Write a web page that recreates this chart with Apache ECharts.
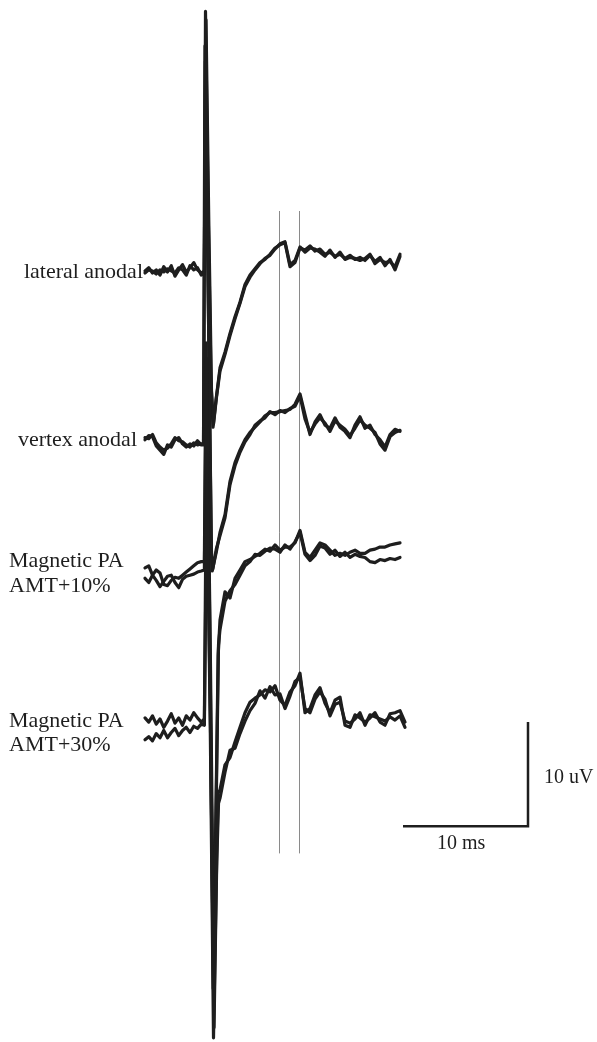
<!DOCTYPE html>
<html><head><meta charset="utf-8">
<script src="https://cdn.jsdelivr.net/npm/echarts@6/dist/echarts.min.js"></script>
<style>html,body{margin:0;padding:0;background:#fff}#c{width:597px;height:1042px}</style>
</head><body><div id="c"></div>
<script>
// ---- data (time in ms relative to stimulus, voltage in uV relative to trace baseline) ----
const traceNames = ['lateral anodal', 'vertex anodal', 'Magnetic PA AMT+10%', 'Magnetic PA AMT+30%'];
const baselines = [-26.1, -42.4, -54.9, -69.6];
const preTimes = [-4.8,-4.5,-4.2,-3.9,-3.6,-3.3,-3.0,-2.7,-2.4,-2.1,-1.8,-1.5,-1.2,-0.9,-0.6,-0.3];
const respTimes = [1.2,1.6,2.0,2.4,2.8,3.2,3.6,4.0,4.4,4.8,5.2,5.6,6.0,6.4,6.8,7.2,7.6,8.0,8.4,8.8,9.2,9.6,10.0,10.4,10.8,11.2,11.6,12.0,12.4,12.8,13.2,13.6,14.0,14.4,14.8,15.2,15.6,16.0];

const latPreA = [0.1,0.4,-0.1,0.2,-0.3,0.5,0.0,0.6,-0.4,0.2,0.7,0.0,0.4,0.9,0.2,-0.1];
const latPreB = [-0.1,0.2,0.1,-0.2,0.2,0.0,0.3,0.1,-0.1,0.4,0.2,-0.3,0.6,0.2,0.4,-0.3];
const latArtA = [[-0.05,0.1],[0.04,25.0],[0.24,6.9],[0.48,-10.4],[0.64,-14.9],[0.88,-12.3]];
const latArtB = [[-0.05,-0.2],[0.08,24.2],[0.3,5.0],[0.52,-11.5],[0.68,-14.6],[0.92,-12.0]];
const latRespA = [-9.2,-7.7,-5.9,-4.3,-2.9,-1.2,-0.3,0.3,0.9,1.2,1.7,2.3,2.6,2.8,0.5,0.9,2.3,2.1,2.5,2.0,2.2,1.7,1.9,1.5,1.7,1.3,1.6,1.2,1.4,1.1,1.6,1.0,1.4,0.6,1.2,0.2,1.5];
const latRespB = [-9.5,-7.9,-6.1,-4.5,-3.0,-1.4,-0.5,0.2,0.8,1.3,1.6,2.2,2.7,2.9,0.7,1.1,2.4,1.9,2.3,2.2,1.9,1.5,2.1,1.4,1.9,1.2,1.4,1.3,1.1,1.3,1.7,0.8,1.2,0.9,1.0,0.5,1.7];

const verPreA = [0.2,0.6,0.5,-0.4,-0.8,-1.2,-0.3,-0.5,0.2,0.4,-0.2,-0.5,-0.2,-0.4,0.1,-0.3];
const verPreB = [0.4,0.3,0.7,-0.1,-0.5,-0.8,-0.6,-0.2,0.4,0.1,0.0,-0.3,-0.5,-0.1,-0.3,-0.2];
const verArtA = [[-0.12,-0.3],[0.0,38.0],[0.28,12.0],[0.5,-10.0],[0.58,-12.4],[0.9,-10.6]];
const verArtB = [[-0.12,-0.2],[0.03,36.5],[0.3,10.0],[0.52,-11.0],[0.62,-12.2],[0.92,-10.2]];
const verRespA = [-8.7,-7.0,-3.8,-2.0,-0.8,0.2,0.9,1.4,1.9,2.5,2.8,2.8,2.9,3.0,3.1,3.6,4.6,2.6,0.7,1.9,2.6,1.6,1.3,2.3,1.4,1.0,0.4,1.6,2.4,1.3,1.6,0.7,0.2,-0.5,0.7,1.2,1.0];
const verRespB = [-9.0,-7.3,-4.1,-2.3,-1.0,0.0,0.7,1.6,2.0,2.3,2.9,2.6,3.0,2.8,3.2,3.4,4.4,2.2,0.9,1.7,2.3,1.8,1.0,2.0,1.6,1.2,0.6,1.3,2.1,1.6,1.3,0.9,-0.2,-0.8,0.5,0.9,1.1];

const m10PreA = [0.4,0.6,-0.3,0.2,-0.1,-1.2,-1.3,-0.8,-0.5,-0.6,-0.3,0.0,0.3,0.6,0.9,1.0];
const m10PreB = [-0.6,-1.0,-0.3,-0.8,-1.4,-0.9,-0.4,-0.3,-1.0,-1.5,-0.7,-0.4,-0.3,-0.2,0.0,0.1];
const m10ArtA = [[-0.05,1.0],[0.08,22.0],[0.38,-5.0],[0.66,-40.0],[0.85,-25.0],[1.05,-8.0]];
const m10ArtB = [[-0.05,0.2],[0.12,20.5],[0.42,-7.0],[0.7,-38.5],[0.9,-22.0],[1.08,-7.0]];
const m10RespA = [-4.6,-1.9,-2.5,-0.6,0.2,1.0,1.2,1.5,1.8,2.2,2.0,2.6,2.1,2.4,2.4,2.8,4.0,1.9,1.4,2.1,2.8,2.6,2.1,1.6,1.8,1.6,1.9,2.1,1.8,1.8,2.1,2.2,2.4,2.4,2.6,2.7,2.8];
const m10RespB = [-5.5,-2.8,-1.8,-1.2,-0.3,0.6,1.0,1.7,1.6,2.0,2.3,2.2,1.9,2.6,2.2,2.9,3.8,1.7,1.1,1.6,2.5,2.3,1.7,2.1,1.5,1.9,1.4,1.7,1.5,1.4,1.0,0.9,1.2,1.1,1.3,1.2,1.4];

const m30PreA = [0.7,0.3,0.9,0.1,0.6,-0.2,0.4,1.1,0.2,0.7,0.0,0.9,0.5,1.2,0.7,0.3];
const m30PreB = [-1.4,-1.1,-1.5,-0.8,-1.2,-0.5,-1.2,-0.7,-0.3,-1.0,-0.5,-0.2,-0.7,-0.1,-0.3,0.1];
const m30ArtA = [[-0.05,0.6],[0.12,26.0],[0.42,0.0],[0.68,-30.0],[0.9,-15.0],[1.05,-6.5]];
const m30ArtB = [[-0.05,0.0],[0.16,24.0],[0.46,-2.0],[0.72,-29.0],[0.94,-13.0],[1.08,-7.5]];
const m30RespA = [-6.2,-3.8,-3.1,-1.6,-0.2,1.2,2.2,2.6,2.9,3.4,3.2,3.8,2.4,1.9,3.2,3.8,5.0,1.2,1.6,2.9,3.6,2.1,1.2,2.4,2.7,0.0,-0.2,1.0,0.7,0.3,0.7,1.2,0.3,0.0,1.1,1.2,1.4,0.3];
const m30RespB = [-7.0,-4.5,-2.4,-2.2,-0.8,0.4,1.4,2.1,3.3,2.6,3.7,2.9,3.0,1.6,2.8,4.2,4.6,1.6,1.2,2.5,3.2,2.5,0.9,2.0,2.2,0.4,0.2,0.6,1.2,0.0,1.0,0.8,0.6,0.4,0.8,0.5,0.9,-0.2];

const cursorTimes = [5.96, 7.56];
const cursorRange = [-81.9, -20.25];
const scaleBarTimes = [15.84, 25.84];   // 10 ms
const scaleBarVolt = [-79.3, -69.3];    // 10 uV
const scaleLabels = ['10 uV', '10 ms'];

const sweeps = [
  [0, latPreA, latArtA, latRespA], [0, latPreB, latArtB, latRespB],
  [1, verPreA, verArtA, verRespA], [1, verPreB, verArtB, verRespB],
  [2, m10PreA, m10ArtA, m10RespA], [2, m10PreB, m10ArtB, m10RespB],
  [3, m30PreA, m30ArtA, m30RespA], [3, m30PreB, m30ArtB, m30RespB]
];

const series = [];
cursorTimes.forEach(t => series.push({
  type: 'line', data: [[t, cursorRange[0]], [t, cursorRange[1]]], showSymbol: false, silent: true,
  lineStyle: { color: '#8a8a8a', width: 1 }, z: 1
}));
sweeps.forEach(([k, pre, art, resp]) => {
  const b = baselines[k];
  const d = preTimes.map((t, i) => [t, b + pre[i]])
    .concat(art.map(p => [p[0], b + p[1]]))
    .concat(resp.map((v, i) => [respTimes[i], b + v]));
  series.push({
    type: 'line', name: traceNames[k], data: d, showSymbol: false, smooth: false, silent: true,
    lineStyle: { color: '#1e1e1e', width: 3.2, join: 'round', cap: 'round' }, z: 3
  });
});
series.push({
  type: 'line', data: [[scaleBarTimes[0], scaleBarVolt[0]], [scaleBarTimes[1], scaleBarVolt[0]], [scaleBarTimes[1], scaleBarVolt[1]]],
  showSymbol: false, silent: true, lineStyle: { color: '#1e1e1e', width: 2.5, join: 'miter' }, z: 3
});

const serif = '"Liberation Serif", "DejaVu Serif", serif';
function txt(s, x, y, align, size) {
  return { type: 'text', x: x, y: y, silent: true,
    style: { text: s, x: 0, y: 0, fill: '#1e1e1e', font: size + 'px ' + serif, textAlign: align, textVerticalAlign: 'middle' } };
}

const chart = echarts.init(document.getElementById('c'), null, { renderer: 'canvas' });
chart.setOption({
  animation: false,
  backgroundColor: '#ffffff',
  grid: { left: 0, right: 0, top: 0, bottom: 0 },
  xAxis: { type: 'value', min: -16.4, max: 31.36, show: false },
  yAxis: { type: 'value', min: -100, max: 0, show: false },
  graphic: [
    txt('lateral anodal', 143, 272, 'right', 22),
    txt('vertex anodal', 137, 440, 'right', 22),
    txt('Magnetic PA', 9, 561, 'left', 22),
    txt('AMT+10%', 9, 586, 'left', 22),
    txt('Magnetic PA', 9, 721, 'left', 22),
    txt('AMT+30%', 9, 745, 'left', 22),
    txt(scaleLabels[0], 544, 778, 'left', 20),
    txt(scaleLabels[1], 437, 844, 'left', 20)
  ],
  series: series
});
</script>
</body></html>
